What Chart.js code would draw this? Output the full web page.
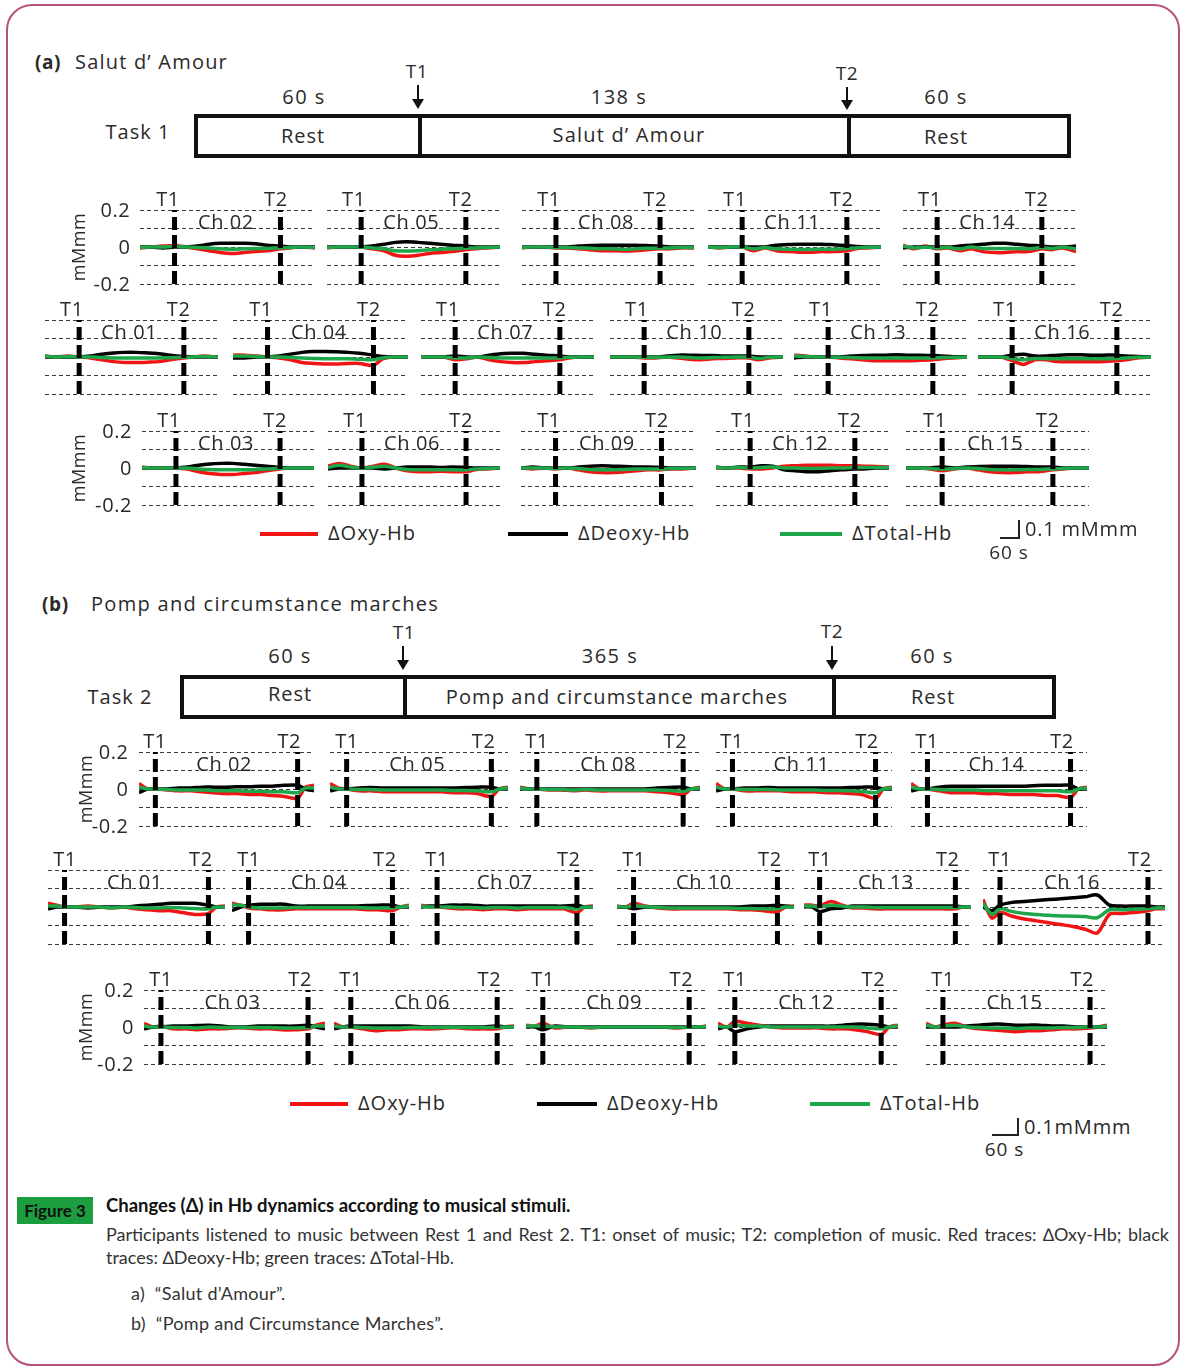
<!DOCTYPE html>
<html>
<head>
<meta charset="utf-8">
<script src="https://cdn.jsdelivr.net/npm/chart.js@4.4.0/dist/chart.umd.min.js"></script>
<style>
body { margin: 0; background: #fff; }
#page { position: relative; width: 1185px; height: 1371px; overflow: hidden; font-family: 'Open Sans', sans-serif; color: #2a2a2a; }
.frame { position: absolute; left: 6px; top: 4px; width: 1170px; height: 1358px; border: 2px solid #b5517f; border-radius: 26px; }
.t { position: absolute; white-space: nowrap; line-height: 1; letter-spacing: 0.6px; }
canvas { position: absolute; }
.box { position: absolute; box-sizing: border-box; border: 4px solid #111; }
.div { position: absolute; top: 0; bottom: 0; width: 4px; background: #111; }
.arrow { position: absolute; width: 2px; background: #111; }
.arrow:after { content: ''; position: absolute; left: -5px; bottom: -2px; border-left: 6px solid transparent; border-right: 6px solid transparent; border-top: 10px solid #111; }
.lg { position: absolute; height: 4px; }
.bar { position: absolute; background: #222; }
.cap { position: absolute; font-family: Lato, sans-serif; color: #333; font-size: 18px; white-space: nowrap; }
</style>
</head>
<body>
<div id="page">
  <div class="frame"></div>
</div>
<script>
// sample times (s, T1 = 0)
const tA = [-45, -30, -15, 0, 15, 30, 45, 60, 75, 90, 105, 120, 138, 150, 165, 183];
const tB = [-42, -20, 0, 30, 60, 90, 120, 150, 180, 210, 240, 270, 300, 330, 365, 385, 407];
const musicA = 138;
const musicB = 365;

const chNames = ['Ch 01','Ch 02','Ch 03','Ch 04','Ch 05','Ch 06','Ch 07','Ch 08',
                 'Ch 09','Ch 10','Ch 11','Ch 12','Ch 13','Ch 14','Ch 15','Ch 16'];
const yTicks = [0.2, 0, -0.2];
const seriesNames = ['\u0394Oxy-Hb', '\u0394Deoxy-Hb', '\u0394Total-Hb'];

// (a) Salut d' Amour, Ch01..Ch16 (mMmm)
const oxyA = [
  [0.005,0,0.005,0,-0.005,-0.015,-0.025,-0.03,-0.03,-0.028,-0.025,-0.015,-0.005,0,0.005,0],
  [-0.005,0,0.005,0.008,0,-0.01,-0.02,-0.03,-0.035,-0.03,-0.025,-0.02,-0.01,-0.005,0,-0.005],
  [0.005,0,0,0,-0.005,-0.02,-0.03,-0.035,-0.035,-0.03,-0.025,-0.015,-0.005,0,0,0],
  [0.01,0.01,0.005,0,-0.005,-0.015,-0.03,-0.035,-0.038,-0.038,-0.035,-0.035,-0.045,-0.01,0,0],
  [-0.005,0,0,0,-0.01,-0.02,-0.045,-0.05,-0.045,-0.035,-0.03,-0.025,-0.015,-0.01,-0.005,0],
  [0.01,0.025,0.01,0,0.01,0.02,0,-0.015,-0.02,-0.02,-0.018,-0.02,-0.02,-0.01,-0.005,0],
  [0,0,0,-0.015,-0.01,0,-0.015,-0.025,-0.03,-0.03,-0.025,-0.02,-0.015,-0.005,0,0],
  [-0.005,0,0,-0.005,-0.005,-0.01,-0.015,-0.02,-0.02,-0.022,-0.02,-0.015,-0.01,-0.01,-0.005,-0.005],
  [0,-0.005,0,-0.005,0,-0.01,-0.02,-0.025,-0.025,-0.02,-0.015,-0.01,-0.01,-0.005,-0.005,0],
  [0,0,0,-0.005,-0.005,0,-0.005,-0.012,-0.015,-0.01,-0.008,-0.005,-0.005,-0.015,-0.005,0],
  [0,-0.005,0,0,-0.02,-0.005,-0.02,-0.025,-0.028,-0.028,-0.025,-0.025,-0.02,-0.01,-0.005,0],
  [0,0,0,-0.005,-0.005,0,0.01,0.012,0.015,0.015,0.015,0.012,0.012,0.01,0.008,0.005],
  [0.01,0.005,0,0,-0.005,-0.01,-0.015,-0.02,-0.02,-0.02,-0.02,-0.018,-0.015,-0.01,-0.005,0],
  [0.01,-0.01,0.005,-0.01,-0.005,-0.02,-0.01,-0.025,-0.03,-0.03,-0.025,-0.025,-0.01,-0.015,-0.005,-0.025],
  [0,0,-0.005,-0.015,-0.005,0,-0.01,-0.02,-0.025,-0.025,-0.02,-0.02,-0.01,-0.005,0,0],
  [0,0,0,-0.02,-0.04,-0.015,-0.015,-0.025,-0.025,-0.025,-0.025,-0.025,-0.02,-0.015,-0.005,0]
];
const deoxyA = [
  [0,0,0,0,0.005,0.015,0.022,0.025,0.025,0.022,0.018,0.01,0.003,0,0,0],
  [0,0,-0.005,0,0,0.005,0.015,0.02,0.02,0.02,0.018,0.01,0.005,0,0,0],
  [0,0,0,0,0.005,0.015,0.022,0.025,0.025,0.02,0.015,0.01,0.003,0,0,0],
  [-0.005,-0.005,0,0,0.005,0.015,0.025,0.03,0.03,0.028,0.025,0.02,0.01,0.003,0,0],
  [0,0,0,0,0.005,0.015,0.025,0.028,0.025,0.02,0.015,0.01,0.005,0,0,0],
  [-0.005,0,0,0,0,-0.005,0,0.005,0.005,0.005,0.003,0.005,0.003,0,0,0],
  [0,0,0,0.005,0,0,0.01,0.018,0.02,0.02,0.015,0.01,0.005,0,0,0],
  [0,0,0,0,0,0.005,0.008,0.01,0.01,0.01,0.01,0.008,0.005,0,0,0],
  [0,0.005,0,0,0,0.005,0.01,0.012,0.01,0.008,0.005,0.005,0.003,0,0,0],
  [0,0,0,0,0,0.005,0.01,0.01,0.008,0.008,0.005,0.005,0.005,0,0,0],
  [0,0,0,0,0,0,0.01,0.013,0.015,0.015,0.015,0.012,0.008,0.003,0,0],
  [0.005,0,0.005,0.005,0.012,0.01,-0.01,-0.015,-0.02,-0.02,-0.015,-0.01,-0.005,-0.005,0,0],
  [-0.005,0,0,0,0,0.005,0.008,0.01,0.01,0.012,0.01,0.01,0.008,0.005,0.002,0],
  [-0.005,0,0,0,0,0.005,0.01,0.015,0.02,0.02,0.015,0.01,0.005,0,0,0.005],
  [0,0,0,0.005,0,0.005,0.008,0.01,0.01,0.01,0.008,0.005,0.005,0,0,0],
  [0,0,0,0.01,0.015,0.005,0.005,0.01,0.012,0.012,0.01,0.01,0.01,0.005,0.003,0]
];
const totalA = [
  [0.005,0,0.003,0,0,-0.003,-0.005,-0.006,-0.006,-0.006,-0.005,-0.004,-0.002,0,0.003,0],
  [-0.003,0,0,0.004,0,-0.003,-0.006,-0.01,-0.012,-0.01,-0.008,-0.008,-0.004,-0.003,0,-0.003],
  [0.003,0,0,0,0,-0.005,-0.008,-0.01,-0.01,-0.01,-0.008,-0.005,-0.002,0,0,0],
  [0.005,0.005,0.003,0,0,-0.003,-0.006,-0.008,-0.01,-0.01,-0.01,-0.012,-0.015,-0.005,0,0],
  [-0.003,0,0,0,-0.005,-0.01,-0.02,-0.022,-0.02,-0.015,-0.012,-0.01,-0.005,-0.005,-0.003,0],
  [0.003,0.015,0.005,0,0.005,0.01,0,-0.008,-0.01,-0.01,-0.01,-0.01,-0.01,-0.005,-0.003,0],
  [0,0,0,-0.005,-0.005,0,-0.003,-0.005,-0.006,-0.006,-0.006,-0.006,-0.005,-0.002,0,0],
  [-0.003,0,0,-0.003,-0.003,-0.005,-0.007,-0.01,-0.01,-0.012,-0.01,-0.007,-0.005,-0.005,-0.003,-0.003],
  [0,0,0,-0.003,0,-0.003,-0.008,-0.01,-0.01,-0.008,-0.006,-0.005,-0.005,-0.003,-0.002,0],
  [0,0,0,-0.002,-0.002,0,0,-0.003,-0.005,-0.003,-0.002,0,0,-0.008,-0.002,0],
  [0,-0.003,0,0,-0.01,-0.003,-0.01,-0.012,-0.013,-0.013,-0.012,-0.012,-0.008,-0.005,-0.002,0],
  [0.003,0,0.003,0,0.003,0.005,0,0,-0.002,-0.002,0,0,0.003,0.003,0.003,0.003],
  [0.005,0.003,0,0,-0.002,-0.003,-0.005,-0.006,-0.006,-0.006,-0.006,-0.005,-0.005,-0.003,-0.002,0],
  [0.005,-0.005,0,-0.005,-0.003,-0.01,0,-0.008,-0.008,-0.008,-0.008,-0.01,-0.003,-0.008,-0.002,-0.01],
  [0,0,-0.003,-0.005,-0.003,0,-0.003,-0.008,-0.01,-0.01,-0.008,-0.008,-0.005,-0.003,0,0],
  [0,0,0,-0.008,-0.015,-0.008,-0.008,-0.01,-0.01,-0.01,-0.01,-0.01,-0.008,-0.005,-0.002,0]
];

// (b) Pomp and circumstance marches, Ch01..Ch16 (mMmm)
const oxyB = [
  [0.02,0.01,0,0,0.005,0,-0.005,0,-0.01,-0.015,-0.02,-0.02,-0.03,-0.04,-0.035,0,0.005],
  [0.03,0,0,-0.005,-0.01,-0.01,-0.015,-0.02,-0.025,-0.025,-0.03,-0.03,-0.035,-0.04,-0.05,0.01,0.02],
  [0.02,0,0.005,-0.01,-0.01,-0.015,-0.01,-0.01,-0.005,-0.005,-0.01,-0.01,-0.015,-0.015,-0.01,0.01,0.02],
  [0.02,0.01,-0.005,-0.01,-0.015,-0.015,-0.01,-0.01,-0.01,-0.01,-0.01,-0.01,-0.015,-0.015,-0.02,0,0.01],
  [0.03,0.005,0,-0.01,-0.01,-0.015,-0.015,-0.015,-0.015,-0.015,-0.015,-0.02,-0.02,-0.025,-0.04,0,0.01],
  [0.02,0,0,-0.01,-0.02,-0.015,-0.015,-0.01,-0.01,-0.01,-0.005,-0.005,-0.01,-0.01,-0.01,0,0.005],
  [0.01,0,0,-0.005,-0.01,-0.01,-0.015,-0.01,-0.01,-0.015,-0.01,-0.01,-0.01,-0.01,-0.03,0,0.005],
  [0.01,0,0,-0.005,-0.005,-0.01,-0.005,-0.01,-0.01,-0.01,-0.01,-0.01,-0.015,-0.02,-0.03,0,0.01],
  [0.01,0.005,0.02,-0.005,0,0,-0.005,0,0,0,0,0,0,-0.005,0,0,0.005],
  [0.005,0,0.02,0.005,-0.005,-0.01,-0.01,-0.01,-0.01,-0.01,-0.01,-0.015,-0.015,-0.02,-0.025,0,0.005],
  [0.03,0,0,-0.01,-0.01,-0.01,-0.01,-0.015,-0.015,-0.015,-0.02,-0.02,-0.025,-0.03,-0.05,0,0.01],
  [0.02,0,0.03,0.02,0.01,0,-0.005,-0.005,-0.005,-0.005,-0.01,-0.01,-0.015,-0.025,-0.04,0,0.01],
  [0.01,0.01,0.005,0.03,0.01,-0.005,-0.005,-0.01,-0.01,-0.01,-0.01,-0.01,-0.01,-0.01,-0.01,0,0],
  [0.03,0,0,-0.01,-0.02,-0.02,-0.02,-0.025,-0.025,-0.03,-0.03,-0.03,-0.035,-0.035,-0.045,0,0.01],
  [0.02,0,0.01,0.02,0,-0.01,-0.015,-0.02,-0.025,-0.02,-0.02,-0.015,-0.01,-0.01,-0.005,0,0.01],
  [0.04,-0.06,-0.03,-0.05,-0.065,-0.075,-0.085,-0.095,-0.105,-0.12,-0.14,-0.04,-0.035,-0.03,-0.02,-0.01,-0.01]
];
const deoxyB = [
  [-0.01,0,0,0,-0.005,0,0,0,0.005,0.01,0.015,0.02,0.02,0.02,0.01,0,0],
  [-0.02,0,0,0,0.005,0.005,0.01,0.01,0.01,0.012,0.012,0.015,0.015,0.02,0.02,0,-0.01],
  [-0.01,0,0,0.005,0.005,0.008,0.01,0.005,0,0,0.005,0.005,0.005,0.005,0.01,0,-0.01],
  [-0.02,0,0.01,0.015,0.015,0.015,0.005,0.005,0.005,0.005,0.005,0.005,0.008,0.01,0.01,0,0],
  [-0.01,0,0,0.005,0.008,0.005,0.005,0.005,0.005,0.005,0.005,0.005,0.008,0.01,0.01,0,0],
  [-0.01,0,0.005,0.005,0.005,0.005,0.005,0.005,0,0,0,0,0,0,0.005,0,0],
  [0,0.005,0.005,0.01,0.01,0.01,0.005,0.005,0.005,0.005,0.005,0.005,0.005,0.005,0.01,0,0],
  [0,0,0,0,0,0,0,0,0,0,0,0,0.005,0.008,0.01,0,0],
  [0,0,-0.015,0.005,0,0,0,0,0,0,0,0,0,0,0,0,0],
  [0,0,-0.01,0,0,0,0,0,0,0,0,0,0.005,0.005,0.01,0.005,0],
  [-0.01,0,0,0.005,0.005,0.008,0.005,0.005,0.005,0.005,0.005,0.005,0.008,0.01,0.01,0,0],
  [-0.01,0,-0.025,-0.01,0,0.005,0.005,0.005,0.005,0.005,0.005,0.01,0.015,0.015,0.01,0,0],
  [0,0,-0.025,-0.01,-0.005,0.005,0.005,0.005,0.005,0.005,0.005,0.005,0.005,0.005,0.005,0,0],
  [-0.01,0,0,0.01,0.015,0.015,0.015,0.015,0.015,0.015,0.015,0.018,0.02,0.02,0.02,0,0],
  [0,0,0,0,0.005,0.01,0.015,0.015,0.01,0.01,0.01,0.005,0.005,0,0,0,0],
  [0,-0.02,0.01,0.025,0.03,0.035,0.04,0.045,0.05,0.055,0.065,0.01,0.005,0.005,0.005,0,0]
];
const totalB = [
  [0.005,0.005,0,0,0,0,-0.005,0,-0.003,-0.005,-0.005,-0.003,-0.005,-0.008,-0.01,0,0],
  [0.01,0,0,-0.003,-0.005,-0.005,-0.005,-0.008,-0.01,-0.01,-0.012,-0.012,-0.015,-0.015,-0.02,0.005,0.005],
  [0.005,0,0,-0.003,-0.003,-0.005,0,-0.003,-0.003,-0.003,-0.003,-0.003,-0.005,-0.005,-0.003,0.005,0.005],
  [0.01,0.01,0,-0.005,-0.005,-0.005,-0.003,-0.003,-0.003,-0.003,-0.003,-0.003,-0.005,-0.005,-0.005,0,0.005],
  [0.01,0,0,-0.003,-0.003,-0.005,-0.005,-0.005,-0.005,-0.005,-0.005,-0.008,-0.008,-0.01,-0.015,0,0.005],
  [0.005,0,0,-0.003,-0.005,-0.005,-0.005,-0.003,-0.003,-0.003,-0.002,-0.002,-0.003,-0.003,-0.003,0,0],
  [0.005,0,0,0,-0.003,-0.003,-0.005,-0.003,-0.003,-0.005,-0.003,-0.003,-0.003,-0.003,-0.01,0,0],
  [0.005,0,0,-0.003,-0.003,-0.005,-0.003,-0.005,-0.005,-0.005,-0.005,-0.005,-0.005,-0.008,-0.012,0,0.005],
  [0.005,0.005,0.005,0,0,0,-0.003,0,0,0,0,0,0,-0.003,0,0,0.003],
  [0.003,0,0.005,0.003,-0.003,-0.005,-0.005,-0.005,-0.005,-0.005,-0.005,-0.008,-0.008,-0.01,-0.01,0,0],
  [0.01,0,0,-0.003,-0.003,-0.003,-0.005,-0.005,-0.005,-0.005,-0.008,-0.008,-0.01,-0.012,-0.02,0,0.005],
  [0.005,0,0.01,0.005,0.005,0,0,0,0,0,0,0,0,-0.005,-0.01,0,0.005],
  [0.005,0.005,0,0.01,0.005,0,0,-0.003,-0.003,-0.003,-0.003,-0.003,-0.003,-0.003,-0.003,0,0],
  [0.01,0,0,-0.003,-0.005,-0.005,-0.005,-0.008,-0.008,-0.01,-0.01,-0.01,-0.01,-0.01,-0.015,0,0.005],
  [0.01,0,0.005,0.01,0,-0.003,-0.005,-0.005,-0.008,-0.005,-0.005,-0.005,-0.003,-0.003,0,0,0.005],
  [0.02,-0.04,-0.01,-0.025,-0.035,-0.04,-0.045,-0.048,-0.05,-0.052,-0.058,-0.015,-0.015,-0.012,-0.01,-0.005,-0.005]
];

const RED = '#f01414', BLACK = '#000000', GREEN = '#1ea64a';

// layout: channel number, T1 px, T2 px per row; zero line y
const rowsA = [
  { zero: 247, ticks: true,  ch: [[2,175,281],[5,361,466],[8,556,660],[11,742,847],[14,937,1042]] },
  { zero: 357, ticks: false, ch: [[1,79,184],[4,268,374],[7,455,560],[10,644,749],[13,828,933],[16,1012,1117]] },
  { zero: 468, ticks: true,  ch: [[3,176,280],[6,362,466],[9,556,662],[12,750,855],[15,942,1053]] }
];
const rowsB = [
  { zero: 789, ticks: true,  ch: [[2,155,297],[5,347,492],[8,537,683],[11,732,875],[14,927,1070]] },
  { zero: 907, ticks: false, ch: [[1,65,209],[4,249,393],[7,437,577],[10,634,778],[13,820,956],[16,1000,1148]] },
  { zero: 1027, ticks: true, ch: [[3,161,308],[6,351,497],[9,543,689],[12,735,881],[15,943,1090]] }
];

const page = document.getElementById('page');

function text(str, x, y, size, style) {
  const d = document.createElement('div');
  d.className = 't';
  d.textContent = str;
  d.style.left = x + 'px';
  d.style.top = y + 'px';
  d.style.fontSize = size + 'px';
  d.style.transform = 'translate(-50%,-50%)';
  Object.assign(d.style, style || {});
  page.appendChild(d);
  return d;
}
function el(cls, css) {
  const d = document.createElement('div');
  d.className = cls;
  Object.assign(d.style, css);
  page.appendChild(d);
  return d;
}

// one small channel plot
function channel(times, tEnd, oxy, deoxy, total, name, t1px, t2px, zeroY, withTicks, off) {
  const s = (t2px - t1px) / tEnd;
  const x0 = times[0], x1 = times[times.length - 1];
  const pad = 4, half = 37;
  const left = t1px + x0 * s - pad;
  const top = zeroY - half - pad;
  const w = Math.round((x1 - x0) * s + 2 * pad), h = 2 * half + 2 * pad;
  const cv = document.createElement('canvas');
  cv.width = w; cv.height = h;
  cv.style.left = left + 'px'; cv.style.top = top + 'px';
  cv.style.width = w + 'px'; cv.style.height = h + 'px';
  page.appendChild(cv);

  const pts = arr => times.map((t, i) => ({ x: t, y: arr[i] }));
  const vline = t => ({ data: [{ x: t, y: -0.2 }, { x: t, y: 0.2 }], borderColor: '#000', borderWidth: 5, borderDash: [13, 5], pointRadius: 0 });
  const trace = (arr, c) => ({ data: pts(arr), borderColor: c, borderWidth: 3.5, pointRadius: 0, tension: 0.3 });

  const chart = new Chart(cv, {
    type: 'line',
    data: { datasets: [vline(0), vline(tEnd), trace(total, GREEN), trace(deoxy, BLACK), trace(oxy, RED)] },
    options: {
      responsive: false,
      animation: false,
      events: [],
      layout: { padding: pad },
      plugins: { legend: { display: false }, tooltip: { enabled: false } },
      scales: {
        x: { type: 'linear', min: x0, max: x1, display: false },
        y: {
          min: -0.2, max: 0.2,
          ticks: { display: false, stepSize: 0.1 },
          grid: { color: '#3a3a3a', lineWidth: 1, drawTicks: false },
          border: { display: false, dash: [4, 3] }
        }
      }
    }
  });

  const sx = chart.scales.x, sy = chart.scales.y;
  const topY = top + sy.getPixelForValue(0.2);
  const p1 = left + sx.getPixelForValue(0), p2 = left + sx.getPixelForValue(tEnd);
  text('T1', p1 + off[0], topY - 11, 20);
  text('T2', p2 + off[1], topY - 11, 20);
  text(name, (p1 + p2) / 2 - 2, topY + 12, 20);
  if (withTicks) {
    const xr = left + chart.chartArea.left - 10;
    yTicks.forEach(v => {
      text(String(v), xr, top + sy.getPixelForValue(v), 20, { transform: 'translate(-100%,-50%)' });
    });
  }
}

function panel(rows, times, tEnd, oxy, deoxy, total, off, unitX) {
  rows.forEach(r => {
    r.ch.forEach((c, j) => {
      const k = c[0] - 1;
      channel(times, tEnd, oxy[k], deoxy[k], total[k], chNames[k], c[1], c[2], r.zero, r.ticks && j === 0, off);
    });
    if (r.ticks) text('mMmm', unitX, r.zero, 18, { transform: 'translate(-50%,-50%) rotate(-90deg)' });
  });
}

// ---- panel (a) header ----
text('(a)', 35, 62, 19, { transform: 'translate(0,-50%)', fontWeight: 'bold' });
text("Salut d\u2019 Amour", 75, 62, 20, { transform: 'translate(0,-50%)', letterSpacing: '1.2px' });
text('T1', 417, 71, 19);
text('T2', 847, 73, 19);
el('arrow', { left: '417px', top: '85px', height: '22px' });
el('arrow', { left: '846px', top: '87px', height: '21px' });
text('60 s', 304, 97, 20, { letterSpacing: '1.5px' });
text('138 s', 619, 97, 20, { letterSpacing: '1.5px' });
text('60 s', 946, 97, 20, { letterSpacing: '1.5px' });
text('Task 1', 138, 132, 20, { letterSpacing: '1px' });
const boxA = el('box', { left: '194px', top: '114px', width: '877px', height: '44px' });
[220, 649].forEach(x => { const d = document.createElement('div'); d.className = 'div'; d.style.left = x + 'px'; boxA.appendChild(d); });
text('Rest', 303, 136, 20, { letterSpacing: '1px' });
text("Salut d\u2019 Amour", 629, 135, 20, { letterSpacing: '1.2px' });
text('Rest', 946, 137, 20, { letterSpacing: '1px' });

panel(rowsA, tA, musicA, oxyA, deoxyA, totalA, [-7, -5], 78);

// ---- legends ----
function legend(y, items, bar) {
  items.forEach(it => {
    el('lg', { left: it[0] + 'px', top: (y - 2) + 'px', width: (it[1] - it[0]) + 'px', background: it[2] });
    text(it[3], it[1] + 10, y - 1, 20, { transform: 'translate(0,-50%)', letterSpacing: '1px' });
  });
  el('bar', { left: bar.x0 + 'px', top: bar.yb + 'px', width: (bar.x1 - bar.x0) + 'px', height: '2px' });
  el('bar', { left: bar.x1 + 'px', top: bar.yt + 'px', width: '2px', height: (bar.yb - bar.yt + 2) + 'px' });
  text(bar.label, bar.x1 + 7, bar.yt + 9, 20, { transform: 'translate(0,-50%)', letterSpacing: '0.8px' });
  text('60 s', (bar.x0 + bar.x1) / 2, bar.yb + 15, 19, { letterSpacing: '1px' });
}
legend(534, [[260, 318, RED, seriesNames[0]], [508, 568, BLACK, seriesNames[1]], [780, 842, GREEN, seriesNames[2]]],
  { x0: 1000, x1: 1018, yt: 520, yb: 537, label: '0.1 mMmm' });

// ---- panel (b) header ----
text('(b)', 42, 604, 19, { transform: 'translate(0,-50%)', fontWeight: 'bold' });
text('Pomp and circumstance marches', 91, 604, 20, { transform: 'translate(0,-50%)', letterSpacing: '1.3px' });
text('T1', 404, 632, 19);
text('T2', 832, 631, 19);
el('arrow', { left: '402px', top: '646px', height: '22px' });
el('arrow', { left: '831px', top: '646px', height: '22px' });
text('60 s', 290, 656, 20, { letterSpacing: '1.5px' });
text('365 s', 610, 656, 20, { letterSpacing: '1.5px' });
text('60 s', 932, 656, 20, { letterSpacing: '1.5px' });
text('Task 2', 120, 697, 20, { letterSpacing: '1px' });
const boxB = el('box', { left: '180px', top: '675px', width: '876px', height: '44px' });
[219, 648].forEach(x => { const d = document.createElement('div'); d.className = 'div'; d.style.left = x + 'px'; boxB.appendChild(d); });
text('Rest', 290, 694, 20, { letterSpacing: '1px' });
text('Pomp and circumstance marches', 617, 697, 20, { letterSpacing: '1.1px' });
text('Rest', 933, 697, 20, { letterSpacing: '1px' });

panel(rowsB, tB, musicB, oxyB, deoxyB, totalB, [0, -8], 85);

legend(1104, [[290, 348, RED, seriesNames[0]], [537, 597, BLACK, seriesNames[1]], [810, 870, GREEN, seriesNames[2]]],
  { x0: 992, x1: 1017, yt: 1118, yb: 1134, label: '0.1mMmm' });

// ---- caption ----
el('cap', { left: '17px', top: '1197px', width: '76px', height: '27px', background: '#1c9d3f', color: '#111', fontWeight: 'bold', fontSize: '17px', lineHeight: '27px', textAlign: 'center' }).textContent = 'Figure 3';
el('cap', { left: '106px', top: '1194px', fontWeight: 'bold', color: '#111', fontSize: '18.5px' }).textContent = 'Changes (\u0394) in Hb dynamics according to musical stimuli.';
const body = el('cap', { left: '106px', top: '1223px', width: '1063px', lineHeight: '23px', textAlign: 'justify', whiteSpace: 'normal' });
body.textContent = 'Participants listened to music between Rest 1 and Rest 2. T1: onset of music; T2: completion of music. Red traces: \u2206Oxy-Hb; black traces: \u2206Deoxy-Hb; green traces: \u2206Total-Hb.';
el('cap', { left: '131px', top: '1282px', whiteSpace: 'pre', letterSpacing: '0.3px' }).textContent = 'a)  \u201cSalut d\u2019Amour\u201d.';
el('cap', { left: '131px', top: '1312px', whiteSpace: 'pre', letterSpacing: '0.3px' }).textContent = 'b)  \u201cPomp and Circumstance Marches\u201d.';
</script>
</body>
</html>
